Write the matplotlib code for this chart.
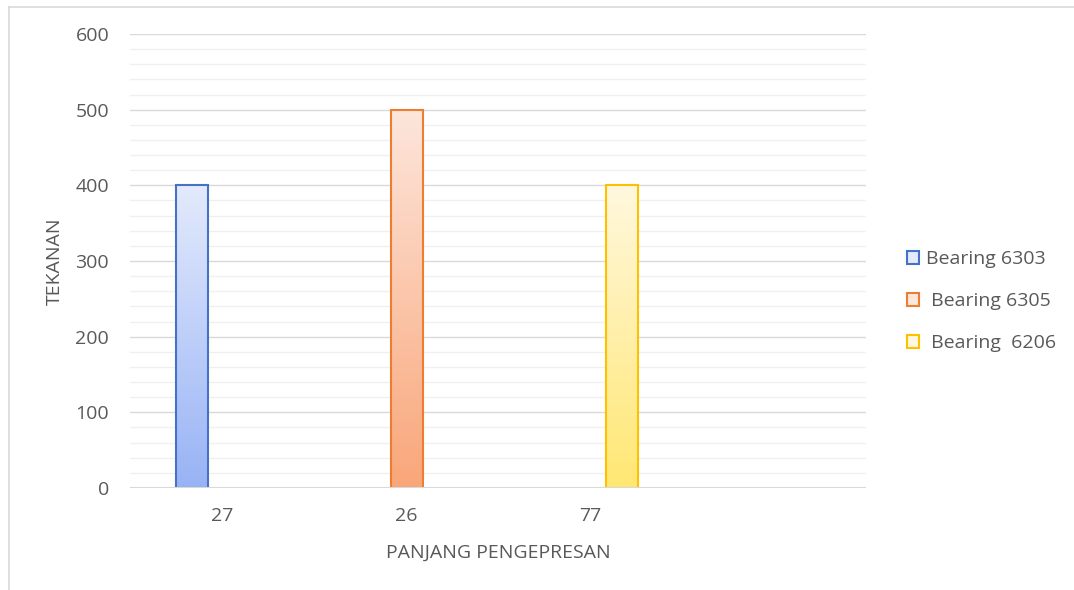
import numpy as np
import matplotlib
matplotlib.use("Agg")
import matplotlib.pyplot as plt
from matplotlib.lines import Line2D
from matplotlib.patches import Patch
from matplotlib.colors import LinearSegmentedColormap

plt.rcParams['font.family'] = ['Open Sans', 'DejaVu Sans']

# Data
categories = ["27", "26", "77", ""]
series_names = ["Bearing 6303", " Bearing 6305", " Bearing  6206"]
bearing_6303 = [400, 0, 0, 0]
bearing_6305 = [0, 500, 0, 0]
bearing_6206 = [0, 0, 400, 0]
series_values = [bearing_6303, bearing_6305, bearing_6206]

edge_colors = ["#4472c4", "#ed7d31", "#ffc000"]
top_colors = ["#e3eafc", "#fde6dc", "#fff8de"]
bottom_colors = ["#98b3f5", "#f9a679", "#ffe773"]

text_gray = "#595959"
fs = 14

fig = plt.figure(figsize=(10.74, 5.90), dpi=100)
ax = fig.add_axes([130 / 1074, 102 / 590, 736 / 1074, 454 / 590])

x = np.arange(len(categories))
bar_w = 0.174
offsets = [-0.165, 0.005, 0.172]

gradient = np.linspace(0, 1, 256).reshape(-1, 1)
for vals, off, ec, tc, bc in zip(series_values, offsets, edge_colors, top_colors, bottom_colors):
    cmap = LinearSegmentedColormap.from_list("g", [bc, tc])
    bars = ax.bar(x + off, vals, width=bar_w, facecolor="none", edgecolor="none", zorder=3)
    for rect, v in zip(bars.patches, vals):
        if v <= 0:
            continue
        x0, y0 = rect.get_x(), rect.get_y()
        w, h = rect.get_width(), rect.get_height()
        im = ax.imshow(gradient, cmap=cmap, aspect="auto", origin="lower",
                       extent=(x0, x0 + w, y0, y0 + h), zorder=3)
        im.set_clip_path(rect)
        ax.add_patch(plt.Rectangle((x0, y0), w, h, facecolor="none",
                                   edgecolor=ec, linewidth=1.5, zorder=4))

ax.set_xlim(-0.5, len(categories) - 0.5)
ax.set_ylim(0, 600)

# Grid
ax.set_yticks(np.arange(0, 601, 100))
ax.set_yticks(np.arange(0, 601, 20), minor=True)
ax.grid(axis="y", which="minor", color="#f0f0f0", linewidth=1.0, zorder=0)
ax.grid(axis="y", which="major", color="#d9d9d9", linewidth=1.0, zorder=1)
ax.axhline(0, color="#d9d9d9", linewidth=1.5, zorder=5)

ax.set_xticks(x)
ax.set_xticklabels(categories)
ax.tick_params(axis="both", which="both", length=0, labelsize=fs, labelcolor=text_gray)
ax.tick_params(axis="x", pad=14)
ax.tick_params(axis="y", pad=15)
for s in ax.spines.values():
    s.set_visible(False)

ax.set_ylabel("TEKANAN", fontsize=fs, color=text_gray, labelpad=8)
ax.set_xlabel("PANJANG PENGEPRESAN", fontsize=fs, color=text_gray, labelpad=13.5)

# Legend
handles = [Patch(facecolor=tc, edgecolor=ec, linewidth=1.5)
           for tc, ec in zip(top_colors, edge_colors)]
leg = fig.legend(handles, series_names, loc="center left",
                 bbox_to_anchor=(897 / 1074, 1 - 301 / 590), frameon=False,
                 fontsize=fs, labelcolor=text_gray, handlelength=0.65,
                 handleheight=0.65, handletextpad=0.35, labelspacing=1.24,
                 borderpad=0.0)

# Chart area border
fig.add_artist(Line2D([8.5 / 1074, 1.0], [1 - 6.5 / 590, 1 - 6.5 / 590],
                      transform=fig.transFigure, color="#d9d9d9", linewidth=1.2))
fig.add_artist(Line2D([8.5 / 1074, 8.5 / 1074], [0, 1 - 6.5 / 590],
                      transform=fig.transFigure, color="#d9d9d9", linewidth=1.2))

fig.savefig("out.png", dpi=100)
